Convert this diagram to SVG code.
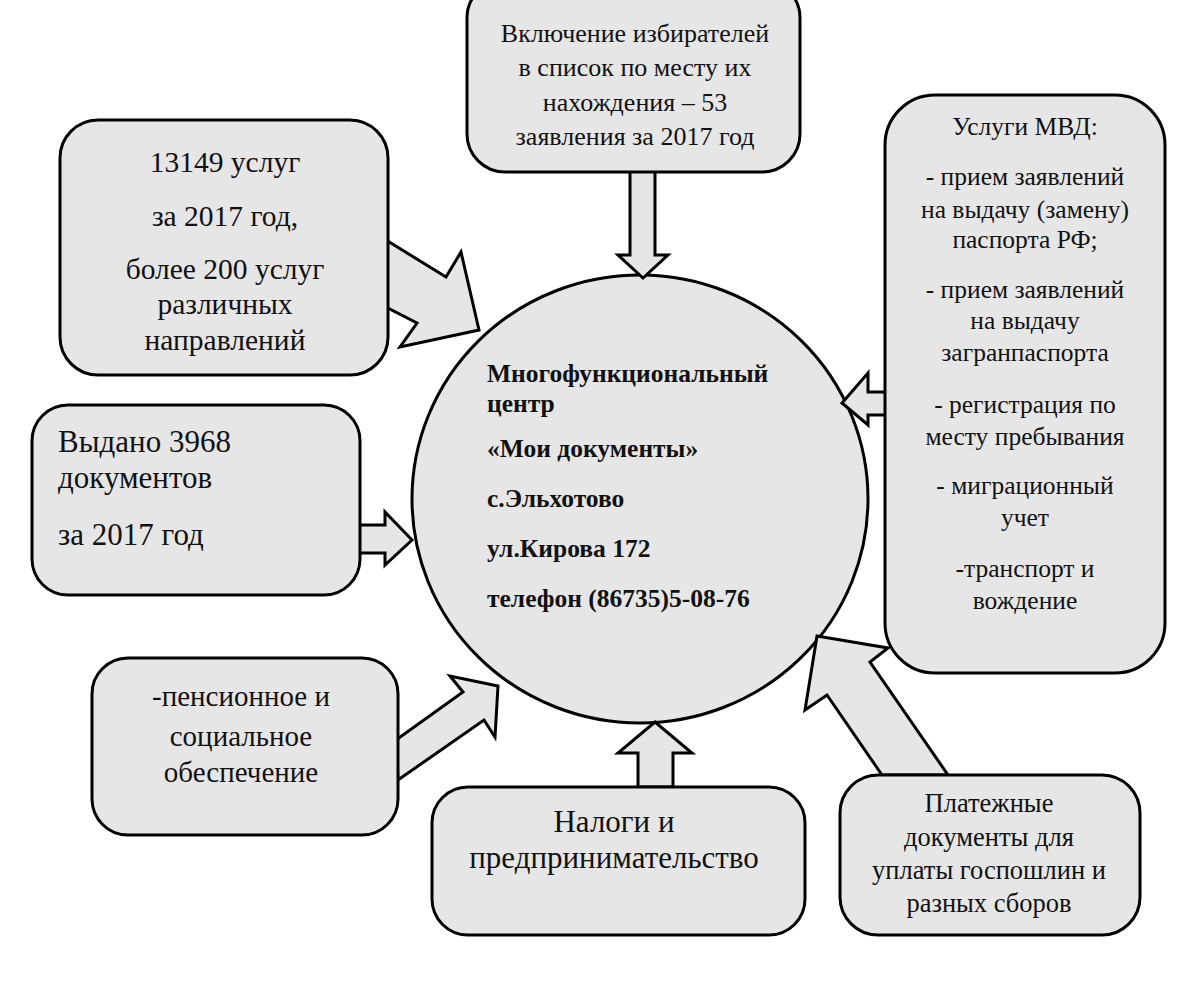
<svg xmlns="http://www.w3.org/2000/svg" width="1200" height="996" viewBox="0 0 1200 996">
<style>
.box{fill:#e6e6e6;stroke:#000;stroke-width:3}
.arr{fill:#e6e6e6;stroke:#000;stroke-width:3;stroke-linejoin:miter}
.t{font-family:"Liberation Serif","Times New Roman",serif;fill:#111}
.c{text-anchor:middle}
.b{font-weight:bold;font-size:25.5px}
.m{font-size:25.5px}
</style>
<rect x="0" y="0" width="1200" height="996" fill="#fff"/>
<g id="center">
<ellipse class="box" cx="640" cy="499" rx="228" ry="224"/>
<text class="t b" x="487" y="382">Многофункциональный</text>
<text class="t b" x="487" y="412">центр</text>
<text class="t b" x="487" y="457">«Мои документы»</text>
<text class="t b" x="487" y="507">с.Эльхотово</text>
<text class="t b" x="487" y="557">ул.Кирова 172</text>
<text class="t b" x="487" y="607">телефон (86735)5-08-76</text>
</g>
<g id="connectors">
<polygon class="arr" points="630,170 655,170 655,255 668,255 643,278 618,255 630,255"/>
<polygon class="arr" points="358,525 385,525 385,512 412,540 385,565 385,553 358,553"/>
<polygon class="arr" points="887,392 868,392 868,373 842,403 868,425 868,415 887,415"/>
<polygon class="arr" points="638,787 638,753 618,753 655,722 692,753 673,753 673,787"/>
<polygon class="arr" points="386,240 446,277 461,252 479,330 400,347 417,323 386,307"/>
<polygon class="arr" points="396,740 463,692 450,676 498,686 495,737 484,720 398,780"/>
<polygon class="arr" points="882,775 827,695 805,710 817,636 888,648 870,662 948,775"/>
</g>
<g id="box-top">
<rect class="box" x="467" y="-20" width="333" height="192" rx="38"/>
<text class="t c" font-size="26" x="635" y="42">Включение избирателей</text>
<text class="t c" font-size="26" x="635" y="76">в список по месту их</text>
<text class="t c" font-size="26" x="635" y="111">нахождения – 53</text>
<text class="t c" font-size="26" x="635" y="145">заявления за 2017 год</text>
</g>
<g id="box-services">
<rect class="box" x="60" y="120" width="328" height="255" rx="38"/>
<text class="t c" font-size="29.5" x="225" y="172">13149 услуг</text>
<text class="t c" font-size="29.5" x="225" y="226">за 2017 год,</text>
<text class="t c" font-size="29.5" x="225" y="279">более 200 услуг</text>
<text class="t c" font-size="29.5" x="225" y="314">различных</text>
<text class="t c" font-size="29.5" x="225" y="350">направлений</text>
</g>
<g id="box-issued">
<rect class="box" x="32" y="405" width="328" height="190" rx="36"/>
<text class="t" font-size="31" x="58" y="452">Выдано 3968</text>
<text class="t" font-size="31" x="58" y="488">документов</text>
<text class="t" font-size="31" x="58" y="545">за 2017 год</text>
</g>
<g id="box-pension">
<rect class="box" x="92" y="658" width="306" height="177" rx="36"/>
<text class="t c" font-size="29" x="241" y="706">-пенсионное и</text>
<text class="t c" font-size="29" x="241" y="746">социальное</text>
<text class="t c" font-size="29" x="241" y="782">обеспечение</text>
</g>
<g id="box-taxes">
<rect class="box" x="432" y="787" width="373" height="148" rx="36"/>
<text class="t c" font-size="31" x="614" y="832">Налоги и</text>
<text class="t c" font-size="31" x="614" y="868">предпринимательство</text>
</g>
<g id="box-payments">
<rect class="box" x="840" y="775" width="300" height="160" rx="38"/>
<text class="t c" font-size="26.5" x="989" y="812">Платежные</text>
<text class="t c" font-size="26.5" x="989" y="846">документы для</text>
<text class="t c" font-size="26.5" x="989" y="879">уплаты госпошлин и</text>
<text class="t c" font-size="26.5" x="989" y="912">разных сборов</text>
</g>
<g id="box-mvd">
<rect class="box" x="885" y="95" width="280" height="578" rx="50"/>
<text class="t c m" x="1025" y="135">Услуги МВД:</text>
<text class="t c m" x="1025" y="185">- прием заявлений</text>
<text class="t c m" x="1025" y="218">на выдачу (замену)</text>
<text class="t c m" x="1025" y="248">паспорта РФ;</text>
<text class="t c m" x="1025" y="298">- прием заявлений</text>
<text class="t c m" x="1025" y="329">на выдачу</text>
<text class="t c m" x="1025" y="361">загранпаспорта</text>
<text class="t c m" x="1025" y="413">- регистрация по</text>
<text class="t c m" x="1025" y="445">месту пребывания</text>
<text class="t c m" x="1025" y="494">- миграционный</text>
<text class="t c m" x="1025" y="526">учет</text>
<text class="t c m" x="1025" y="577">-транспорт и</text>
<text class="t c m" x="1025" y="609">вождение</text>
</g>
</svg>
